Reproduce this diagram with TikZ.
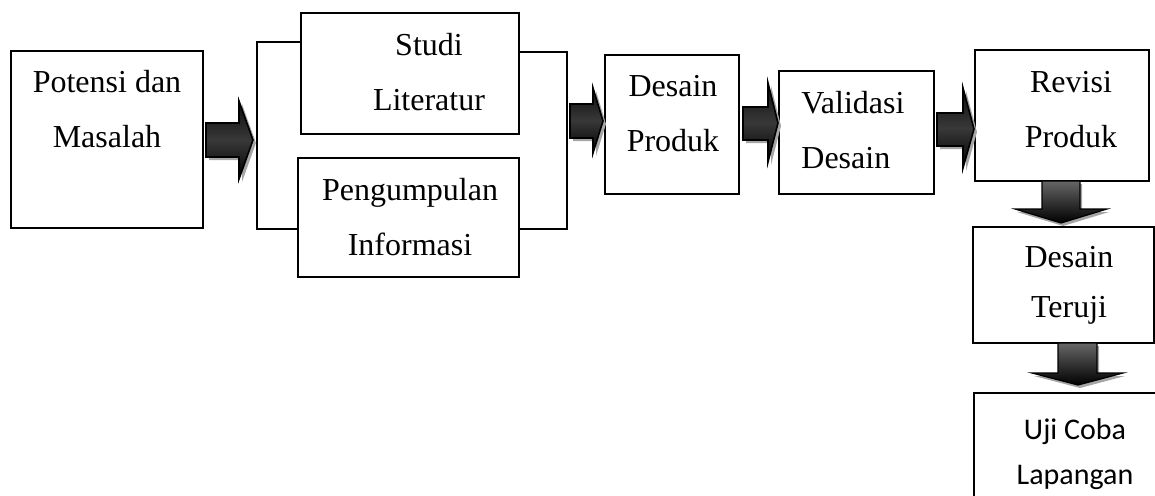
\documentclass[tikz,border=0pt]{standalone}
\usepackage{fontspec}
\setmainfont{Liberation Serif}
\newfontfamily\calibrifont{Carlito}
\usetikzlibrary{calc}

\tikzset{
  box/.style={draw, line width=1pt, inner sep=0pt},
  lbl/.style={align=center, inner sep=0pt, font=\fontsize{16}{27.5}\selectfont},
  bracket/.style={line width=1pt},
  blockh/.style={draw=black, line width=0.8pt, top color=black!95, bottom color=black, middle color=black!78},
  blockv/.style={draw=black, line width=0.6pt, top color=black!60, bottom color=black},
  dropshadow/.style={fill=black!35},
}

\begin{document}
\begin{tikzpicture}[x=0.5pt, y=-0.5pt]
  \useasboundingbox (0,0) rectangle (1155,495);
  \clip (0,0) rectangle (1155,495);
  % boxes
  \node[box, minimum width=96pt, minimum height=88.5pt] (potensi) at (107,139.5) {};
  \node[box, minimum width=109pt, minimum height=60.5pt] (studi) at (410,73.5) {};
  \node[box, minimum width=110.5pt, minimum height=59.5pt] (pengumpulan) at (408.5,217.5) {};
  \node[box, minimum width=67pt, minimum height=69.5pt] (produk) at (672,124.5) {};
  \node[box, minimum width=77.5pt, minimum height=61.5pt] (validasi) at (856.5,132.5) {};
  \node[box, minimum width=87pt, minimum height=65.5pt] (revisi) at (1062,115.5) {};
  \node[box, minimum width=90.5pt, minimum height=58pt] (teruji) at (1063.5,285) {};
  \node[box, minimum width=100.5pt, minimum height=63.5pt] (ujicoba) at (1074.5,456.5) {};
  % texts
  \node[lbl] at (107,109.5) {Potensi dan\\Masalah};
  \node[lbl] at (429,72.5) {Studi\\Literatur};
  \node[lbl] at (410,217.5) {Pengumpulan\\Informasi};
  \node[lbl] at (673,114) {Desain\\Produk};
  \node[lbl, align=left, anchor=west] at (801,130) {Validasi\\Desain};
  \node[lbl] at (1071,110) {Revisi\\Produk};
  \node[lbl, font=\fontsize{16}{25}\selectfont] at (1069,285) {Desain\\Teruji};
  \node[lbl, font=\calibrifont\fontsize{15}{22.5}\selectfont] at (1075,454) {Uji Coba\\Lapangan};
  % brackets
  \coordinate (lt) at (257,42);
  \coordinate (lb) at (257,229);
  \draw[bracket] (studi.west |- lt) -- (lt) -- (lb) -- (pengumpulan.west |- lb);
  \coordinate (rt) at (567,52);
  \coordinate (rb) at (567,229);
  \draw[bracket] (studi.east |- rt) -- (rt) -- (rb) -- (pengumpulan.east |- rb);
  % block arrows
  \fill[dropshadow, shift={(3,3)}] (206,123) -- (239,123) -- (239,101) -- (253,140) -- (239,179) -- (239,157) -- (206,157) -- cycle;
  \path[blockh] (206,123) -- (239,123) -- (239,101) -- (253,140) -- (239,179) -- (239,157) -- (206,157) -- cycle;
  \fill[dropshadow, shift={(3,3)}] (570,104) -- (593,104) -- (593,88) -- (603,121) -- (593,153) -- (593,138) -- (570,138) -- cycle;
  \path[blockh] (570,104) -- (593,104) -- (593,88) -- (603,121) -- (593,153) -- (593,138) -- (570,138) -- cycle;
  \fill[dropshadow, shift={(3,3)}] (743,107) -- (768,107) -- (768,83) -- (778,123) -- (768,162) -- (768,140) -- (743,140) -- cycle;
  \path[blockh] (743,107) -- (768,107) -- (768,83) -- (778,123) -- (768,162) -- (768,140) -- (743,140) -- cycle;
  \fill[dropshadow, shift={(3,3)}] (937,113) -- (963,113) -- (963,88) -- (974,129) -- (963,168) -- (963,146) -- (937,146) -- cycle;
  \path[blockh] (937,113) -- (963,113) -- (963,88) -- (974,129) -- (963,168) -- (963,146) -- (937,146) -- cycle;
  \fill[dropshadow, shift={(2,3)}] (1042,181) -- (1042,209) -- (1015,209) -- (1061,223) -- (1107,209) -- (1080,209) -- (1080,181) -- cycle;
  \path[blockv] (1042,181) -- (1042,209) -- (1015,209) -- (1061,223) -- (1107,209) -- (1080,209) -- (1080,181) -- cycle;
  \fill[dropshadow, shift={(2,3)}] (1058,343) -- (1058,373) -- (1032,373) -- (1078,385) -- (1123,373) -- (1097,373) -- (1097,343) -- cycle;
  \path[blockv] (1058,343) -- (1058,373) -- (1032,373) -- (1078,385) -- (1123,373) -- (1097,373) -- (1097,343) -- cycle;
\end{tikzpicture}
\end{document}
